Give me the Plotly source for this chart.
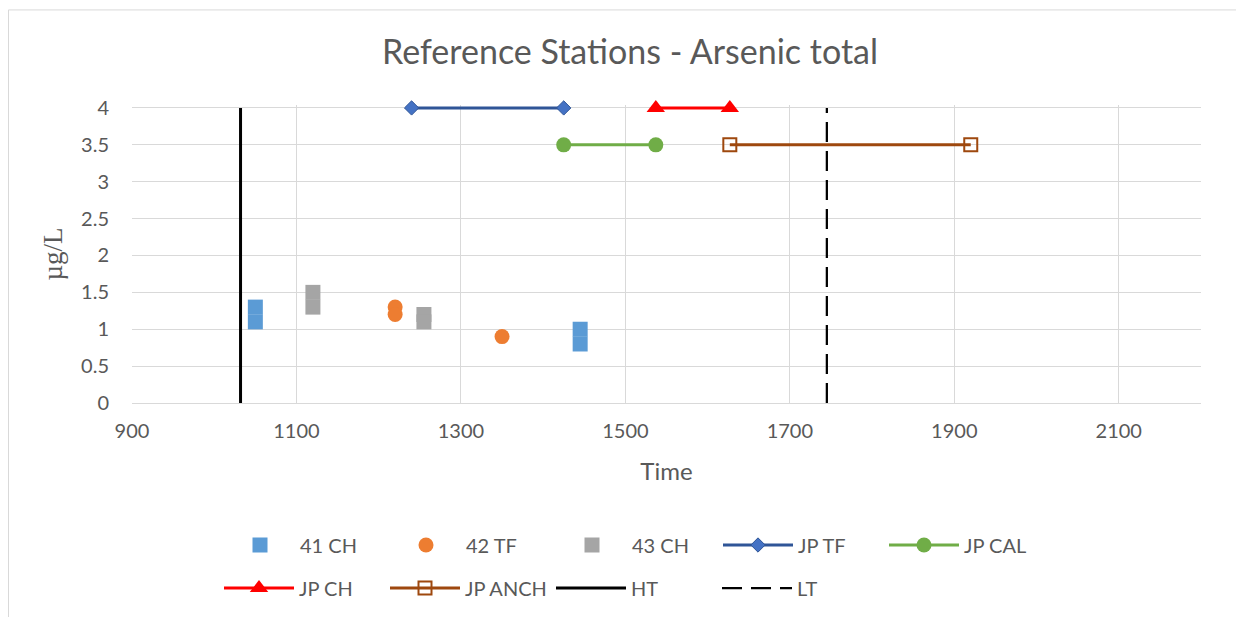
import plotly.graph_objs as go

# station samples (x = time, y = arsenic total in µg/L)
st41_x = [1050, 1050, 1445, 1445]
st41_y = [1.3, 1.1, 1.0, 0.8]
st42_x = [1220, 1220, 1350]
st42_y = [1.3, 1.2, 0.9]
st43_x = [1120, 1120, 1255, 1255]
st43_y = [1.5, 1.3, 1.2, 1.1]

# period ranges
jp_tf_x = [1240, 1425]
jp_tf_y = [4, 4]
jp_cal_x = [1425, 1537]
jp_cal_y = [3.5, 3.5]
jp_ch_x = [1537, 1627]
jp_ch_y = [4, 4]
jp_anch_x = [1627, 1920]
jp_anch_y = [3.5, 3.5]

# tide markers
ht_x = [1032, 1032]
ht_y = [0, 4]
lt_x = [1745, 1745]
lt_y = [0, 4]

FONT = "Lato"
GREY = "#595959"

# page has an 8px body margin, so the figure is laid out 8px up/left
W, H = 1236, 609
OFF = 8
Y_TOP = 4.04  # a little headroom so lines at y=4 are not clipped

fig = go.Figure()

# Row 1 of legend
fig.add_trace(go.Scatter(
    x=st41_x, y=st41_y, mode='markers', name='41 CH', legend='legend',
    marker=dict(symbol='square', size=15, color='#5B9BD5')
))
fig.add_trace(go.Scatter(
    x=st42_x, y=st42_y, mode='markers', name='42 TF', legend='legend',
    marker=dict(symbol='circle', size=15, color='#ED7D31')
))
fig.add_trace(go.Scatter(
    x=st43_x, y=st43_y, mode='markers', name='43 CH', legend='legend',
    marker=dict(symbol='square', size=15, color='#A5A5A5')
))
fig.add_trace(go.Scatter(
    x=jp_tf_x, y=jp_tf_y, mode='lines+markers', name='JP TF', legend='legend',
    line=dict(color='#2F5597', width=3), cliponaxis=False,
    marker=dict(symbol='diamond', size=11, color='#4472C4',
                line=dict(color='#2F5597', width=1))
))
fig.add_trace(go.Scatter(
    x=jp_cal_x, y=jp_cal_y, mode='lines+markers', name='JP CAL', legend='legend',
    line=dict(color='#70AD47', width=3), cliponaxis=False,
    marker=dict(symbol='circle', size=15, color='#70AD47')
))

# Row 2 of legend
fig.add_trace(go.Scatter(
    x=jp_ch_x, y=jp_ch_y, mode='lines+markers', name='JP CH', legend='legend2',
    line=dict(color='#FF0000', width=3), cliponaxis=False,
    marker=dict(symbol='triangle-up', size=16, color='#FF0000')
))
fig.add_trace(go.Scatter(
    x=jp_anch_x, y=jp_anch_y, mode='lines+markers', name='JP ANCH', legend='legend2',
    line=dict(color='#9E480E', width=3), cliponaxis=False,
    marker=dict(symbol='square-open', size=13, color='#9E480E',
                line=dict(color='#9E480E', width=2))
))
fig.add_trace(go.Scatter(
    x=ht_x, y=ht_y, mode='lines', name='HT', legend='legend2',
    line=dict(color='black', width=3)
))
fig.add_trace(go.Scatter(
    x=lt_x, y=lt_y, mode='lines', name='LT', legend='legend2',
    line=dict(color='black', width=2.25, dash='20px,9px')
))

legend_common = dict(
    orientation='h',
    xref='container', yref='container',
    xanchor='left', yanchor='middle',
    itemwidth=70,
    entrywidth=81,
    font=dict(family=FONT, size=20, color=GREY),
    bgcolor='rgba(0,0,0,0)',
)

# plot area: y=0 at page 403, y=4 at page 108
px_per_unit = (403 - 108) / 4
plot_l, plot_r = 132 - OFF, 1201 - OFF
plot_b = 403 - OFF
plot_t = plot_b - px_per_unit * Y_TOP
pw, ph = plot_r - plot_l, plot_b - plot_t

fig.update_layout(
    width=W,
    height=H,
    margin=dict(l=plot_l, r=W - plot_r, t=plot_t, b=H - plot_b),
    paper_bgcolor='white',
    plot_bgcolor='white',
    title=dict(
        text='Reference Stations - Arsenic total',
        font=dict(family=FONT, size=34, color=GREY),
        x=(630 - OFF) / W, xref='container', xanchor='center',
        y=1 - (52 - OFF) / H, yref='container', yanchor='middle'
    ),
    xaxis=dict(
        range=[900, 2200],
        tickmode='array',
        tickvals=[900, 1100, 1300, 1500, 1700, 1900, 2100],
        showgrid=True, gridcolor='#D9D9D9', gridwidth=1,
        zeroline=False,
        showline=True, linecolor='#D9D9D9', linewidth=1,
        tickfont=dict(family=FONT, size=20, color=GREY),
        ticklabelstandoff=10,
        title=dict(text='Time', font=dict(family=FONT, size=24, color=GREY), standoff=22)
    ),
    yaxis=dict(
        range=[0, Y_TOP],
        tickmode='array',
        tickvals=[0, 0.5, 1, 1.5, 2, 2.5, 3, 3.5, 4],
        showgrid=True, gridcolor='#D9D9D9', gridwidth=1,
        zeroline=False,
        showline=False,
        tickfont=dict(family=FONT, size=20, color=GREY),
        ticklabelstandoff=22,
        title=dict(text='µg/L', font=dict(family='Liberation Serif', size=27, color=GREY), standoff=10)
    ),
    legend=dict(legend_common, x=(220 - OFF) / W, y=1 - (545 - OFF) / H),
    legend2=dict(legend_common, x=(219 - OFF) / W, y=1 - (588 - OFF) / H),
    shapes=[dict(
        type='rect', xref='paper', yref='paper',
        x0=(0.5 - plot_l) / pw, x1=1.3,
        y0=-1.2, y1=(plot_b - 2) / ph,
        line=dict(color='#D9D9D9', width=1),
        layer='below'
    )],
)

fig.write_html("out.html")
